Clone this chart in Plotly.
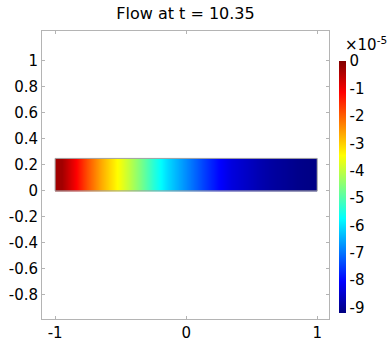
import plotly.graph_objects as go

# Data: flow values (units of 1e-5) sampled at cell centres along x
x_edges = [-1.0, -0.9, -0.8, -0.7, -0.6, -0.5, -0.4, -0.3, -0.2, -0.1, 0.0,
           0.1, 0.2, 0.3, 0.4, 0.5, 0.6, 0.7, 0.8, 0.9, 1.0]
y_edges = [0.0, 0.125, 0.25]
flow_e5 = [-0.3, -1.05, -1.9, -2.65, -3.3, -3.95, -4.65, -5.4, -6.05, -6.55,
           -7.05, -7.55, -8.0, -8.35, -8.55, -8.75, -8.9, -9.0, -9.1, -9.15]
cbar_vals = [0, -1, -2, -3, -4, -5, -6, -7, -8, -9]
cbar_text = ["0", "-1", "-2", "-3", "-4", "-5", "-6", "-7", "-8", "-9"]
x_ticks = [-1, 0, 1]
x_ticktext = ["-1", "0", "1"]
y_ticks = [-0.8, -0.6, -0.4, -0.2, 0, 0.2, 0.4, 0.6, 0.8, 1]
y_ticktext = ["-0.8", "-0.6", "-0.4", "-0.2", "0", "0.2", "0.4", "0.6", "0.8", "1"]

jet = [[0.0, "rgb(0,0,128)"], [0.125, "rgb(0,0,255)"], [0.375, "rgb(0,255,255)"],
       [0.625, "rgb(255,255,0)"], [0.875, "rgb(255,0,0)"], [1.0, "rgb(128,0,0)"]]

FONT = "DejaVu Sans"
z = [flow_e5 for _ in range(len(y_edges) - 1)]

fig = go.Figure()
fig.add_trace(go.Heatmap(
    x=x_edges, y=y_edges, z=z, zsmooth="best",
    colorscale=jet, zmin=-9.2, zmax=0,
    colorbar=dict(
        thickness=7, lenmode="pixels", len=252,
        x=1.035, xanchor="left", xpad=0,
        y=0.458, yanchor="middle", ypad=0,
        outlinewidth=0, borderwidth=0,
        tickvals=cbar_vals, ticktext=cbar_text, ticks="",
        tickfont=dict(family=FONT, size=15, color="black"),
    ),
    hoverinfo="skip",
))
fig.add_shape(type="rect", x0=x_edges[0], x1=x_edges[-1], y0=y_edges[0], y1=y_edges[-1],
              line=dict(color="#a0a0a0", width=1), xref="x", yref="y")

axis_common = dict(showgrid=False, zeroline=False, showline=True, mirror="ticks",
                   linecolor="#b4b4b4", linewidth=1, ticks="inside", ticklen=3,
                   tickcolor="#b4b4b4", automargin=False,
                   tickfont=dict(family=FONT, size=15, color="black"))
fig.update_xaxes(range=[-1.1, 1.09], tickvals=x_ticks, ticktext=x_ticktext, **axis_common)
fig.update_yaxes(range=[-0.985, 1.23], tickvals=y_ticks, ticktext=y_ticktext, **axis_common)

fig.add_annotation(text="×10<sup>-5</sup>", xref="paper", yref="paper", x=1.05, y=0.955,
                   xanchor="left", yanchor="middle", showarrow=False,
                   font=dict(family=FONT, size=15, color="black"))

fig.update_layout(
    width=392, height=342,
    margin=dict(l=42, r=63, t=31, b=23, autoexpand=False),
    paper_bgcolor="white", plot_bgcolor="white",
    title=dict(text="Flow at t = 10.35", x=0.5, xref="paper", xanchor="center",
               y=1 - 13 / 342, yanchor="middle",
               font=dict(family=FONT, size=16, color="black")),
    showlegend=False,
)

fig.write_html("out.html", config={"displayModeBar": False},
               post_script="document.body.style.margin='0';")
